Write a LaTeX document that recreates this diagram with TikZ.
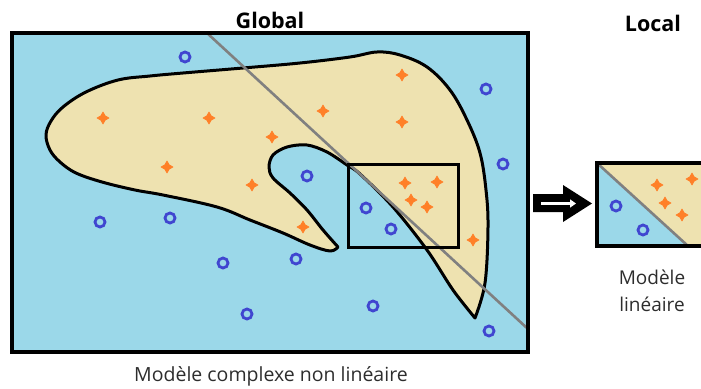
\documentclass[tikz,border=0pt]{standalone}
\usepackage{fontspec}
\setmainfont{Open Sans}
\usetikzlibrary{arrows.meta}
\definecolor{bgblue}{RGB}{155,216,233}
\definecolor{blobyellow}{RGB}{238,226,176}
\definecolor{ringblue}{RGB}{64,70,208}
\definecolor{plusorange}{RGB}{255,128,40}
\definecolor{linegray}{RGB}{128,128,128}
\definecolor{captiongray}{RGB}{45,45,45}
\begin{document}
\begin{tikzpicture}[x=1pt,y=-1pt,
  ring/.style={draw=ringblue, line width=2.8pt},
  plusmark/.style={fill=plusorange, draw=plusorange, line width=0.6pt, line join=round},
  frame/.style={draw=black, line width=3.5pt},
  sepline/.style={draw=linegray, line width=2.6pt},
  titletext/.style={font=\bfseries\fontsize{21.5}{25}\selectfont, text=black},
  captext/.style={font=\fontsize{19.5}{24}\selectfont, text=captiongray, align=center}]
\useasboundingbox (0,0) rectangle (701,388);
\clip (0,0) rectangle (701,388);

% ---------- global panel ----------
\fill[bgblue] (12,33) rectangle (528,352);
\filldraw[fill=blobyellow, draw=black, line width=3pt, line join=round]
  plot[smooth, tension=0.6] coordinates {(475,318) (485,283) (488,227) (486,190) (480,153) (467,120) (450,90) (427,67) (400,55) (377,52) (350,57) (300,63) (243,68) (183,73) (150,76) (118,80) (86,92) (63,107) (51,121) (46,135) (50,150) (60,162) (76,173) (102,182) (135,190) (163,195) (217,207) (250,220) (283,233) (310,245) (330,251) (338,247)}
  -- plot[smooth, tension=0.55] coordinates {(338,247) (323,230) (307,210) (290,193) (273,178) (269,167) (273,155) (287,147) (307,145) (327,152) (347,165) (360,174) (393,207) (427,250) (453,290) (475,318)}
  -- cycle;

\foreach \x/\y in {185/57,486/89,503/164,307/176,100/222,170/218,223/263,296/259,247/314,366/208,391/229,373/306,489/331}
  \draw[ring] (\x,\y) circle[radius=5];
\foreach \x/\y in {103/118,209/118,272/137,323/111,402/75,402/122,167/167,252/185,303/227,405/183,437/182,411/200,427/207,473/240}
  \filldraw[plusmark, shift={(\x,\y)}] (6,0) -- (2.2,2.2) -- (0,6) -- (-2.2,2.2) -- (-6,0) -- (-2.2,-2.2) -- (0,-6) -- (2.2,-2.2) -- cycle;

\coordinate (gl1) at (207,33);
\coordinate (gl2) at (528,329);
\draw[sepline] (gl1) -- (gl2);
\draw[black, line width=3pt] (348,164) rectangle (458,247);
\draw[frame] (12,33) rectangle (528,352);

% ---------- arrow ----------
\fill[black] (533,194) -- (563,194) -- (563,185) -- (592,203.5) -- (563,222) -- (563,212) -- (533,212) -- cycle;
\coordinate (aw1) at (541,203.5);
\coordinate (aw2) at (576,203.5);
\draw[white, line width=2.6pt, -{Triangle[length=6pt,width=8pt]}] (aw1) -- (aw2);

% ---------- local panel ----------
\fill[blobyellow] (597,163) rectangle (714,246);
\fill[bgblue] (597,163) -- (688,246) -- (597,246) -- cycle;
\foreach \x/\y in {616/206,643/230}
  \draw[ring] (\x,\y) circle[radius=5];
\foreach \x/\y in {657/185,692/179,665/203,682/215}
  \filldraw[plusmark, shift={(\x,\y)}] (6,0) -- (2.2,2.2) -- (0,6) -- (-2.2,2.2) -- (-6,0) -- (-2.2,-2.2) -- (0,-6) -- (2.2,-2.2) -- cycle;
\coordinate (ll1) at (597,163);
\coordinate (ll2) at (688,246);
\draw[sepline] (ll1) -- (ll2);
\draw[frame] (597,163) rectangle (714,246);

% ---------- texts ----------
\node[titletext] (tglobal) at (270,20) {Global};
\node[titletext] (tlocal) at (653,23) {Local};
\node[captext] (cglobal) at (271,376) {Modèle complexe non linéaire};
\node[captext, font=\fontsize{19}{27}\selectfont] (clocal) at (652,291) {Modèle\\linéaire};
\end{tikzpicture}
\end{document}
